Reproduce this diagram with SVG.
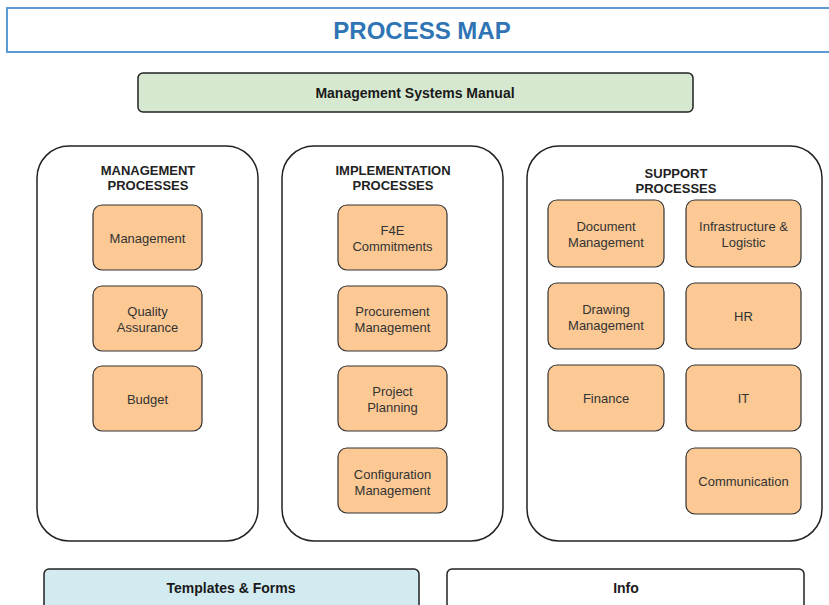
<svg xmlns="http://www.w3.org/2000/svg" width="829" height="605" viewBox="0 0 829 605">
<style>
text{font-family:"Liberation Sans",Arial,sans-serif;text-anchor:middle;dominant-baseline:central}
.title{font-size:24px;font-weight:bold;fill:#2f75b5}
.bar{stroke:#222;stroke-width:1.5}
.bartxt{font-size:14px;font-weight:bold;fill:#1a1a1a}
.cont{fill:#fff;stroke:#222;stroke-width:1.5}
.head{font-size:13px;font-weight:bold;fill:#222}
.proc{fill:#fcc994;stroke:#333;stroke-width:1.2}
.ptxt{font-size:13px;fill:#333}
</style>
<rect width="829" height="605" fill="#fff"/>
<g id="title">
<rect x="7" y="8" width="840" height="44" fill="#fff" stroke="#5b9bd5" stroke-width="2"/>
<text class="title" x="422" y="30">PROCESS MAP</text>
</g>
<g id="manual">
<rect class="bar" x="138" y="73" width="555" height="39" rx="5" fill="#d6e9d0"/>
<text class="bartxt" x="415" y="93">Management Systems Manual</text>
</g>
<g id="management-processes">
<rect class="cont" x="37" y="146" width="221" height="395" rx="32"/>
<text class="head" x="148" y="170">MANAGEMENT</text>
<text class="head" x="148" y="185">PROCESSES</text>
</g>
<g id="implementation-processes">
<rect class="cont" x="282" y="146" width="221" height="395" rx="32"/>
<text class="head" x="393" y="170">IMPLEMENTATION</text>
<text class="head" x="393" y="185">PROCESSES</text>
</g>
<g id="support-processes">
<rect class="cont" x="527" y="146" width="295" height="395" rx="32"/>
<text class="head" x="676" y="173">SUPPORT</text>
<text class="head" x="676" y="188">PROCESSES</text>
</g>
<g id="p-management"><rect class="proc" x="93" y="205" width="109" height="65" rx="9"/><text class="ptxt" x="147.5" y="238">Management</text></g>
<g id="p-quality"><rect class="proc" x="93" y="286" width="109" height="65" rx="9"/><text class="ptxt" x="147.5" y="311">Quality</text><text class="ptxt" x="147.5" y="327">Assurance</text></g>
<g id="p-budget"><rect class="proc" x="93" y="366" width="109" height="65" rx="9"/><text class="ptxt" x="147.5" y="399">Budget</text></g>
<g id="p-f4e"><rect class="proc" x="338" y="205" width="109" height="65" rx="9"/><text class="ptxt" x="392.5" y="230">F4E</text><text class="ptxt" x="392.5" y="246">Commitments</text></g>
<g id="p-procurement"><rect class="proc" x="338" y="286" width="109" height="65" rx="9"/><text class="ptxt" x="392.5" y="311">Procurement</text><text class="ptxt" x="392.5" y="327">Management</text></g>
<g id="p-planning"><rect class="proc" x="338" y="366" width="109" height="65" rx="9"/><text class="ptxt" x="392.5" y="391">Project</text><text class="ptxt" x="392.5" y="407">Planning</text></g>
<g id="p-configuration"><rect class="proc" x="338" y="448" width="109" height="65" rx="9"/><text class="ptxt" x="392.5" y="474">Configuration</text><text class="ptxt" x="392.5" y="490">Management</text></g>
<g id="p-document"><rect class="proc" x="548" y="200" width="116" height="67" rx="9"/><text class="ptxt" x="606" y="226">Document</text><text class="ptxt" x="606" y="242">Management</text></g>
<g id="p-infrastructure"><rect class="proc" x="686" y="200" width="115" height="67" rx="9"/><text class="ptxt" x="743.5" y="226">Infrastructure &amp;</text><text class="ptxt" x="743.5" y="242">Logistic</text></g>
<g id="p-drawing"><rect class="proc" x="548" y="283" width="116" height="66" rx="9"/><text class="ptxt" x="606" y="309">Drawing</text><text class="ptxt" x="606" y="325">Management</text></g>
<g id="p-hr"><rect class="proc" x="686" y="283" width="115" height="66" rx="9"/><text class="ptxt" x="743.5" y="316">HR</text></g>
<g id="p-finance"><rect class="proc" x="548" y="365" width="116" height="66" rx="9"/><text class="ptxt" x="606" y="398">Finance</text></g>
<g id="p-it"><rect class="proc" x="686" y="365" width="115" height="66" rx="9"/><text class="ptxt" x="743.5" y="398">IT</text></g>
<g id="p-communication"><rect class="proc" x="686" y="448" width="115" height="66" rx="9"/><text class="ptxt" x="743.5" y="481">Communication</text></g>
<g id="templates">
<rect class="bar" x="44" y="569" width="375" height="45" rx="5" fill="#d2ebf1"/>
<text class="bartxt" x="231" y="588">Templates &amp; Forms</text>
</g>
<g id="info">
<rect class="bar" x="447" y="569" width="357" height="45" rx="5" fill="#fff"/>
<text class="bartxt" x="626" y="588">Info</text>
</g>
<g id="connectors"></g>
</svg>
